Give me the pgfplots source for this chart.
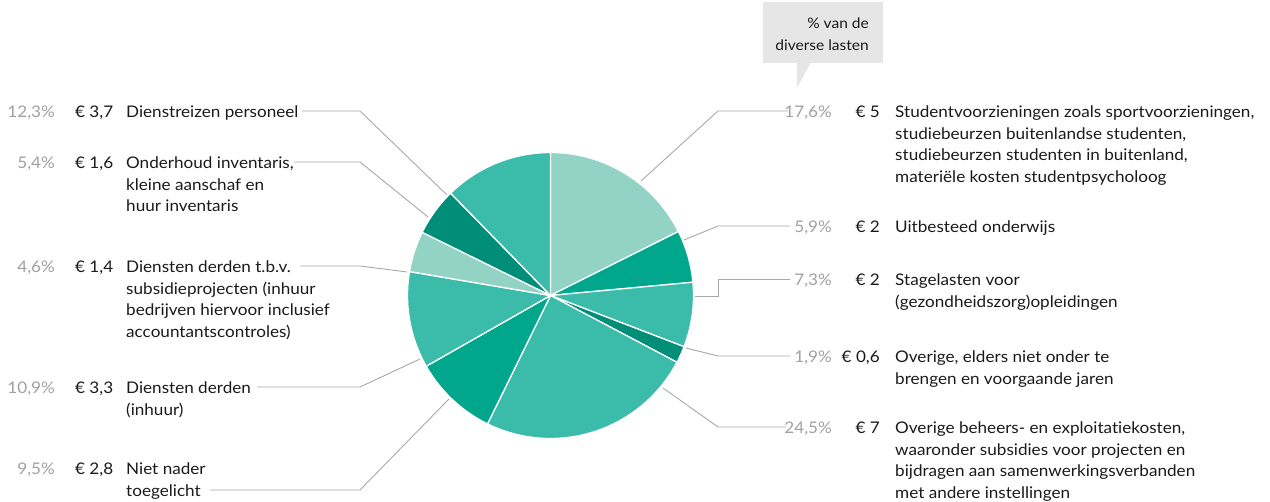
\documentclass[border=0pt]{standalone}
\usepackage{fontspec}
\setmainfont{Lato}[Ligatures=NoCommon, FakeStretch=1.07]
\usepackage{pgfplots}
\usepackage{pgfplotstable}
\pgfplotsset{compat=1.18}
\definecolor{cLight}{HTML}{93D3C6}
\definecolor{cMid}{HTML}{3BBCAB}
\definecolor{cStrong}{HTML}{00A78D}
\definecolor{cDark}{HTML}{008E78}
\definecolor{pctgray}{HTML}{A0A0A0}
\definecolor{linegray}{HTML}{A8A8A8}
\definecolor{boxgray}{HTML}{E6E6E6}
\definecolor{txt}{HTML}{1A1A1A}
\newcommand\lblfont{\fontsize{16}{21.5}\selectfont}
\newcommand\boxfont{\fontsize{14.5}{21.5}\selectfont}
\tikzset{lbl/.style={inner sep=0pt, font=\lblfont, text=txt},
         pct/.style={inner sep=0pt, font=\lblfont, text=pctgray}}

% share of the miscellaneous costs, clockwise from 12 o'clock
\pgfplotstableread{
pct  col
17.6 cLight
5.9  cStrong
7.3  cMid
1.9  cDark
24.5 cMid
9.5  cStrong
10.9 cMid
4.6  cLight
5.4  cDark
12.3 cMid
}\slices

\begin{document}
\begin{tikzpicture}[font=\lblfont]
\lblfont
\begin{axis}[
  scale only axis, width=1270pt, height=502pt,
  xmin=0, xmax=1270, ymin=0, ymax=502, y dir=reverse,
  hide axis, clip=false,
]
\def\total{0}
\pgfplotsforeachungrouped \i in {0,...,9}{%
  \pgfplotstablegetelem{\i}{pct}\of\slices
  \pgfmathsetmacro\total{\total+\pgfplotsretval}%
}
\def\cum{0}
\pgfplotsforeachungrouped \i in {0,...,9}{%
  \pgfplotstablegetelem{\i}{pct}\of\slices \let\sliceval\pgfplotsretval
  \pgfplotstablegetelem{\i}{col}\of\slices \let\slicecol\pgfplotsretval
  \pgfmathsetmacro\angA{\cum/\total*360}%
  \pgfmathsetmacro\cum{\cum+\sliceval}%
  \pgfmathsetmacro\angB{\cum/\total*360}%
  \edef\temp{\noexpand\addplot[fill=\slicecol, draw=white, line width=1.3pt, line join=round, domain=\angA:\angB, samples=60] ({550.5+143*sin(x)},{295.5-143*cos(x)}) -- (axis cs:550.5,295.5) -- cycle;}%
  \temp
}

% leader lines
\begin{scope}[linegray, line width=0.9pt]
\draw (axis cs:302,111) -- (axis cs:360,111) -- (axis cs:447,195);
\draw (axis cs:294,162) -- (axis cs:360,162) -- (axis cs:428,217);
\draw (axis cs:300,266) -- (axis cs:360,266) -- (axis cs:407,272);
\draw (axis cs:257,387) -- (axis cs:360,387) -- (axis cs:420,359);
\draw (axis cs:210,490) -- (axis cs:360,490) -- (axis cs:449,399);
\draw (axis cs:641,181) -- (axis cs:718,111) -- (axis cs:788,111);
\draw (axis cs:684,240) -- (axis cs:718,226) -- (axis cs:790,226);
\draw (axis cs:695,296) -- (axis cs:718,296) -- (axis cs:718,279) -- (axis cs:790,279);
\draw (axis cs:686,348) -- (axis cs:718,356) -- (axis cs:790,356);
\draw (axis cs:663,388) -- (axis cs:718,427) -- (axis cs:786,427);
\end{scope}

% callout
\fill[boxgray] (axis cs:763,2) rectangle (axis cs:883,63);
\fill[boxgray] (axis cs:797,62) -- (axis cs:811,62) -- (axis cs:797,88) -- cycle;
\node[lbl, font=\boxfont, anchor=base east, align=right] at (axis cs:869,50.5) {\% van de\\diverse lasten};

% left labels (multi-line nodes anchored at the baseline of their last line)
\node[pct, anchor=base east] at (axis cs:55,118) {12,3\%};
\node[lbl, anchor=base west] at (axis cs:75,118) {€ 3,7};
\node[lbl, anchor=base west] at (axis cs:126,118) {Dienstreizen personeel};

\node[pct, anchor=base east] at (axis cs:55,169) {5,4\%};
\node[lbl, anchor=base west] at (axis cs:75,169) {€ 1,6};
\node[lbl, anchor=base west, align=left] at (axis cs:126,212) {Onderhoud inventaris,\\kleine aanschaf en\\huur inventaris};

\node[pct, anchor=base east] at (axis cs:55,273) {4,6\%};
\node[lbl, anchor=base west] at (axis cs:75,273) {€ 1,4};
\node[lbl, anchor=base west, align=left] at (axis cs:126,337.5) {Diensten derden t.b.v.\\subsidieprojecten (inhuur\\bedrijven hiervoor inclusief\\accountantscontroles)};

\node[pct, anchor=base east] at (axis cs:55,394) {10,9\%};
\node[lbl, anchor=base west] at (axis cs:75,394) {€ 3,3};
\node[lbl, anchor=base west, align=left] at (axis cs:126,415.5) {Diensten derden\\(inhuur)};

\node[pct, anchor=base east] at (axis cs:55,475) {9,5\%};
\node[lbl, anchor=base west] at (axis cs:75,475) {€ 2,8};
\node[lbl, anchor=base west, align=left] at (axis cs:126,496.5) {Niet nader\\toegelicht};

% right labels
\node[pct, anchor=base east] at (axis cs:832,118) {17,6\%};
\node[lbl, anchor=base east] at (axis cs:880,118) {€ 5};
\node[lbl, anchor=base west, align=left] at (axis cs:895,182.5) {Studentvoorzieningen zoals sportvoorzieningen,\\studiebeurzen buitenlandse studenten,\\studiebeurzen studenten in buitenland,\\materiële kosten studentpsycholoog};

\node[pct, anchor=base east] at (axis cs:832,233) {5,9\%};
\node[lbl, anchor=base east] at (axis cs:880,233) {€ 2};
\node[lbl, anchor=base west] at (axis cs:895,233) {Uitbesteed onderwijs};

\node[pct, anchor=base east] at (axis cs:832,286) {7,3\%};
\node[lbl, anchor=base east] at (axis cs:880,286) {€ 2};
\node[lbl, anchor=base west, align=left] at (axis cs:895,307.5) {Stagelasten voor\\(gezondheidszorg)opleidingen};

\node[pct, anchor=base east] at (axis cs:832,363) {1,9\%};
\node[lbl, anchor=base east] at (axis cs:880,363) {€ 0,6};
\node[lbl, anchor=base west, align=left] at (axis cs:895,384.5) {Overige, elders niet onder te\\brengen en voorgaande jaren};

\node[pct, anchor=base east] at (axis cs:832,434) {24,5\%};
\node[lbl, anchor=base east] at (axis cs:880,434) {€ 7};
\node[lbl, anchor=base west, align=left] at (axis cs:895,498.5) {Overige beheers- en exploitatiekosten,\\waaronder subsidies voor projecten en\\bijdragen aan samenwerkingsverbanden\\met andere instellingen};
\end{axis}
\pgfresetboundingbox
\path[use as bounding box] (current axis.south west) rectangle (current axis.north east);
\end{tikzpicture}
\end{document}
